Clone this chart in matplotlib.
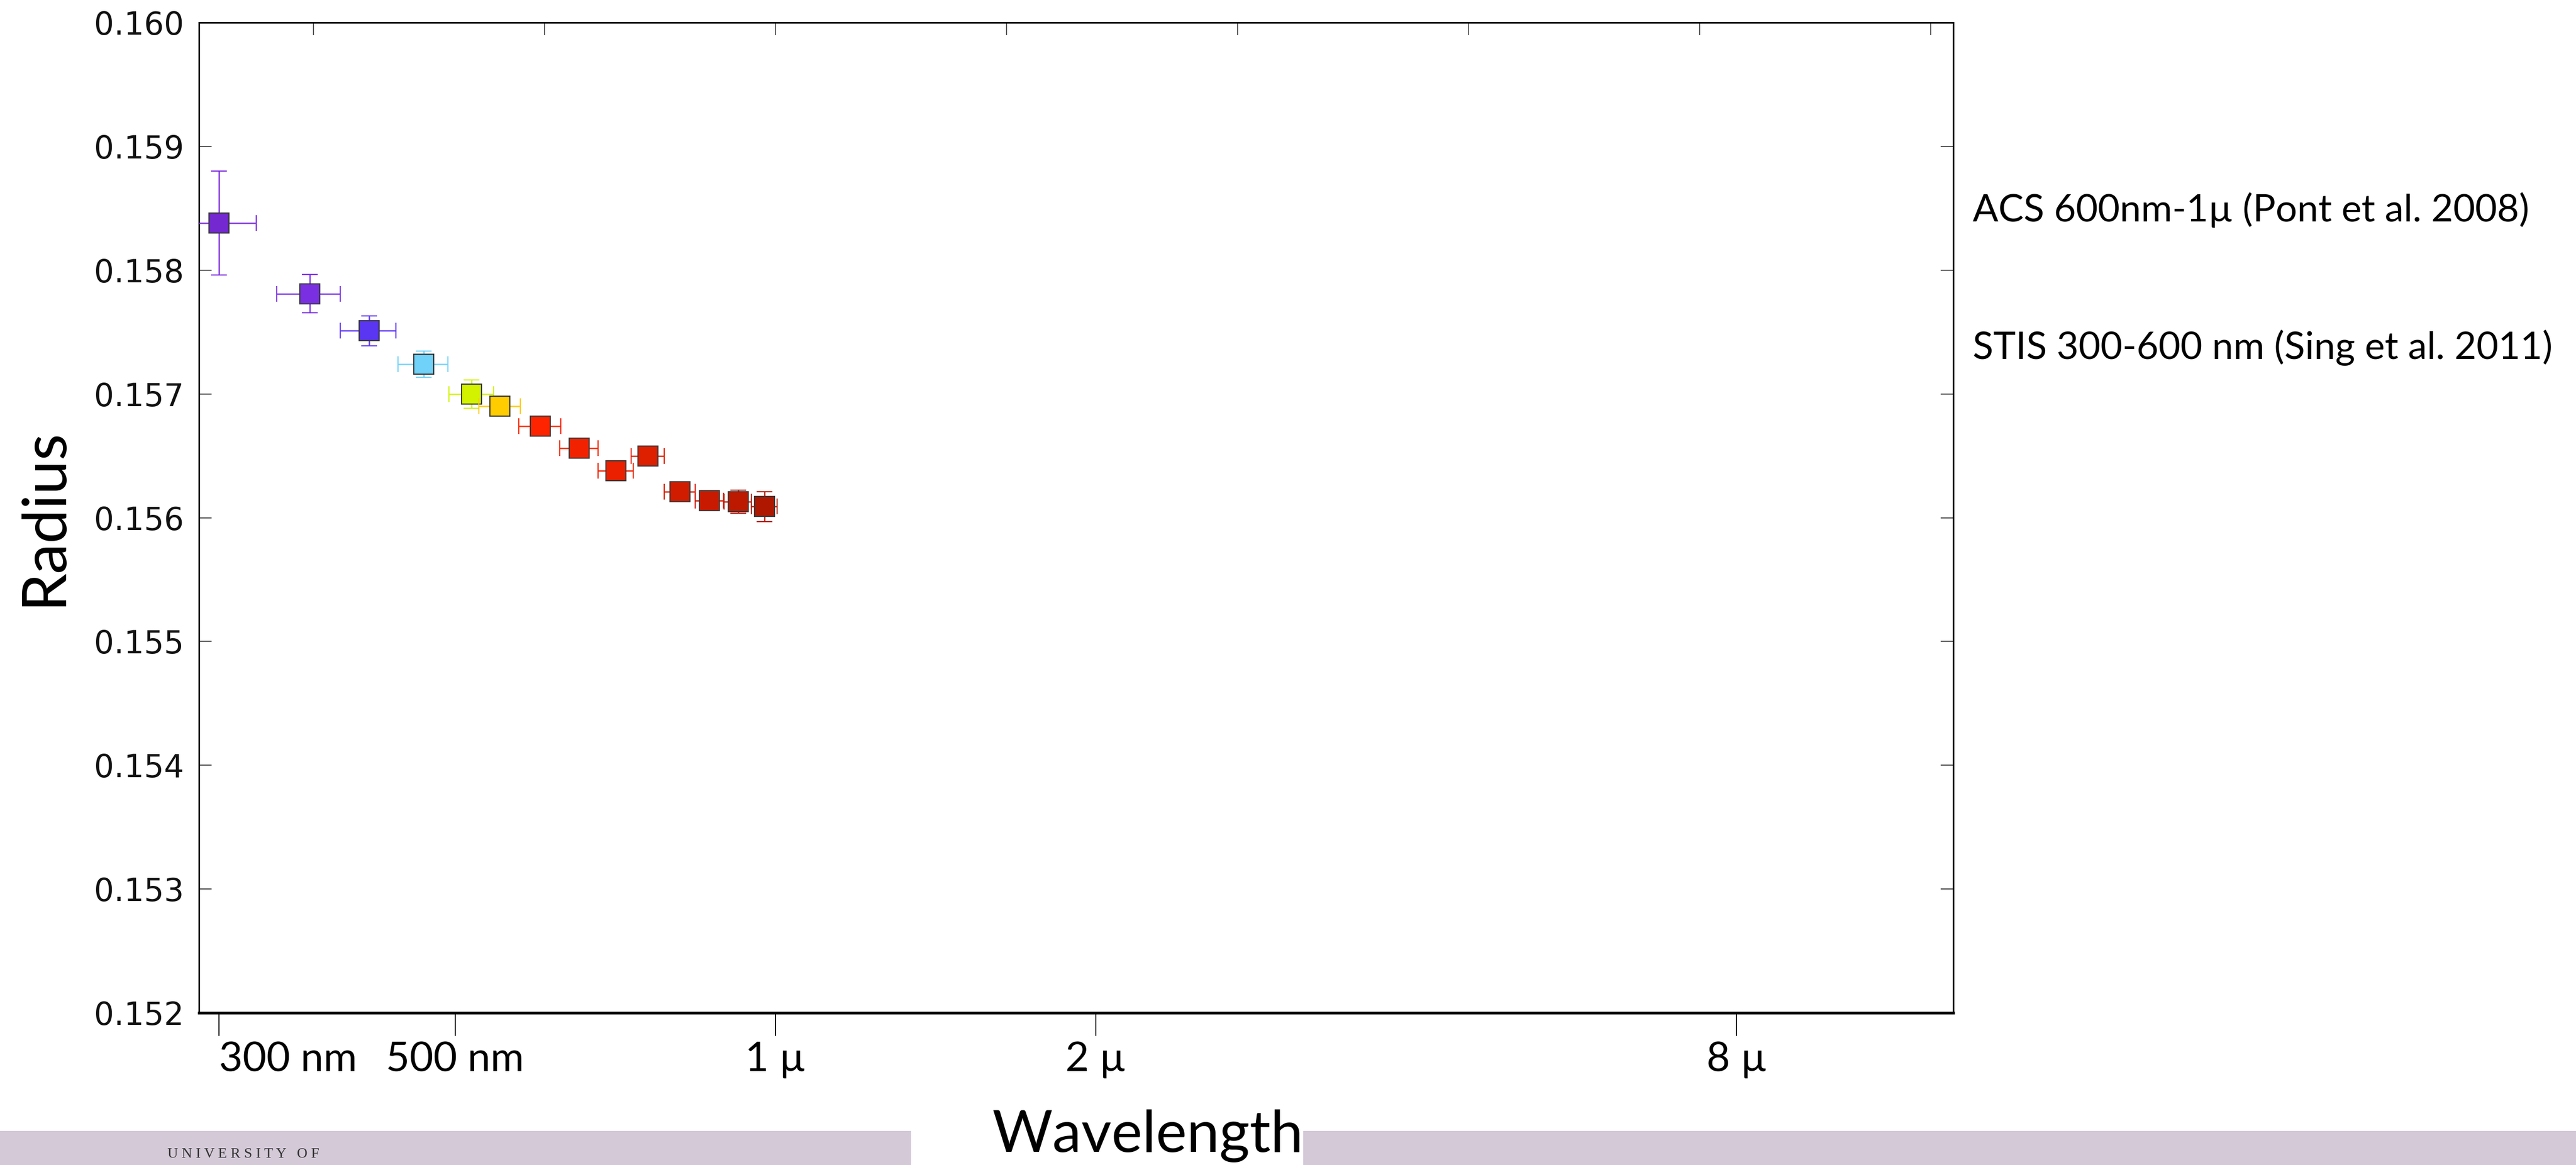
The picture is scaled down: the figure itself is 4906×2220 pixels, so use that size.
import numpy as np
import matplotlib
matplotlib.use("Agg")
import matplotlib.pyplot as plt
from matplotlib.ticker import FixedLocator, NullFormatter, FormatStrFormatter
from matplotlib.patches import Rectangle, Circle

# ---------------- data ----------------
wavelength_nm = [300, 365, 415, 467, 518, 551, 601, 654, 708, 759, 813, 867, 922, 976]
wavelength_err_nm = [25, 25, 25, 25, 25, 25, 27, 27, 27, 27, 27, 27, 27, 27]
radius = [0.15838, 0.15781, 0.15751, 0.15724, 0.15700, 0.15690, 0.15674,
          0.15656, 0.15638, 0.15650, 0.15621, 0.15614, 0.15613, 0.15609]
radius_err = [0.00042, 0.000156, 0.000122, 0.000106, 0.000114, 0.00008, 0.00007,
              0.00007, 0.00007, 0.00007, 0.00007, 0.00007, 0.000094, 0.000122]
point_colors = ["#7328d0", "#7a30e2", "#5a35f2", "#70d2f8", "#d2f200", "#ffcc00",
                "#ff2400", "#f22200", "#ea2000", "#de1f00", "#d21c00", "#c81a00",
                "#bd1800", "#b01700"]
error_colors = ["#7f30e0", "#7f36ea", "#6038f6", "#72d4fa", "#d4f410", "#ffcc10",
                "#ff2a08", "#f52808", "#ee2608", "#e22408", "#d82208", "#cc2008",
                "#c21e08", "#b81c08"]

x_tick_values_nm = [300, 500, 1000, 2000, 8000]
x_tick_labels = ["300 nm", "500 nm", "1 µ", "2 µ", "8 µ"]
top_tick_ln_um = [-1.0, -0.5, 0.0, 0.5, 1.0, 1.5, 2.0, 2.5]
y_ticks = [0.152, 0.153, 0.154, 0.155, 0.156, 0.157, 0.158, 0.159, 0.160]
x_limits_nm = (287.3, 12790.0)
y_limits = (0.152, 0.160)

legend_lines = ["ACS 600nm-1µ (Pont et al. 2008)", "STIS 300-600 nm (Sing et al. 2011)"]

SLIDE_FONT = ["Lato", "DejaVu Sans"]

# ---------------- figure ----------------
fig = plt.figure(figsize=(49.06, 22.2), dpi=100)
fig.patch.set_facecolor("white")

ax = fig.add_axes([0.0773, 0.1306, 0.6810, 0.8500])

for i in range(len(wavelength_nm)):
    ax.errorbar(wavelength_nm[i], radius[i],
                xerr=wavelength_err_nm[i], yerr=radius_err[i],
                fmt="s", markersize=27, markerfacecolor=point_colors[i],
                markeredgecolor="#383838", markeredgewidth=1.6,
                ecolor=error_colors[i], elinewidth=1.8, capsize=10.8,
                capthick=1.8, zorder=3 + i)

ax.set_xscale("log")
ax.set_xlim(*x_limits_nm)
ax.set_ylim(*y_limits)

# bottom (slide) ticks
ax.xaxis.set_major_locator(FixedLocator(x_tick_values_nm))
ax.set_xticklabels(x_tick_labels, fontfamily=SLIDE_FONT, fontsize=56)
ax.xaxis.remove_overlapping_locs = False
# top ticks of original plot (evenly spaced in ln(lambda))
ax.xaxis.set_minor_locator(FixedLocator([1000.0 * np.exp(k) for k in top_tick_ln_um]))
ax.xaxis.set_minor_formatter(NullFormatter())
ax.tick_params(axis="x", which="major", direction="out", length=32, width=1.4,
               color="black", bottom=True, top=False, pad=7)
ax.tick_params(axis="x", which="minor", direction="in", length=17, width=1.4,
               color="#555555", bottom=False, top=True)
labels = ax.get_xticklabels()
labels[0].set_horizontalalignment("left")

ax.set_yticks(y_ticks)
ax.yaxis.set_major_formatter(FormatStrFormatter("%.3f"))
ax.tick_params(axis="y", which="major", direction="in", length=17, width=1.4,
               color="#444444", left=True, right=True, labelsize=43, pad=21)
for t in ax.get_yticklabels():
    t.set_fontfamily("DejaVu Sans")
    t.set_color("#111111")

for side in ["left", "right", "top"]:
    ax.spines[side].set_linewidth(2.2)
    ax.spines[side].set_color("black")
ax.spines["bottom"].set_linewidth(3.8)
ax.spines["bottom"].set_color("black")

# axis titles (slide text)
fig.text(0.0171, 0.5563, "Radius", rotation=90, ha="center", va="center",
         fontfamily=SLIDE_FONT, fontsize=84, color="black")

# bottom slide band
fig.patches.append(Rectangle((0.0, 0.0), 1735 / 4906, 1 - 2155 / 2220,
                             transform=fig.transFigure, facecolor="#d3c9d7",
                             edgecolor="none", zorder=0))
fig.patches.append(Rectangle((2482 / 4906, 0.0), 1 - 2482 / 4906, 1 - 2155 / 2220,
                             transform=fig.transFigure, facecolor="#d3c9d7",
                             edgecolor="none", zorder=0))
fig.patches.append(Circle((157 / 4906, 1 - 2245 / 2220), 40 / 4906,
                          transform=fig.transFigure, facecolor="#1d5fae",
                          edgecolor="none", zorder=1))
fig.text(319 / 4906, 1 - 2212 / 2220, "U N I V E R S I T Y   O F", ha="left", va="bottom",
         fontfamily=["Liberation Serif", "DejaVu Serif"], fontsize=20, color="#333333")

fig.text(0.4456, 1 - 2195 / 2220, "Wavelength", ha="center", va="baseline",
         fontfamily=SLIDE_FONT, fontsize=80, color="black", zorder=5)

# source annotations on the right
fig.text(3757 / 4906, 1 - 422 / 2220, legend_lines[0], ha="left", va="baseline",
         fontfamily=SLIDE_FONT, fontsize=52, color="black")
fig.text(3757 / 4906, 1 - 684 / 2220, legend_lines[1], ha="left", va="baseline",
         fontfamily=SLIDE_FONT, fontsize=52, color="black")

fig.savefig("out.png", dpi=100, facecolor="white")
